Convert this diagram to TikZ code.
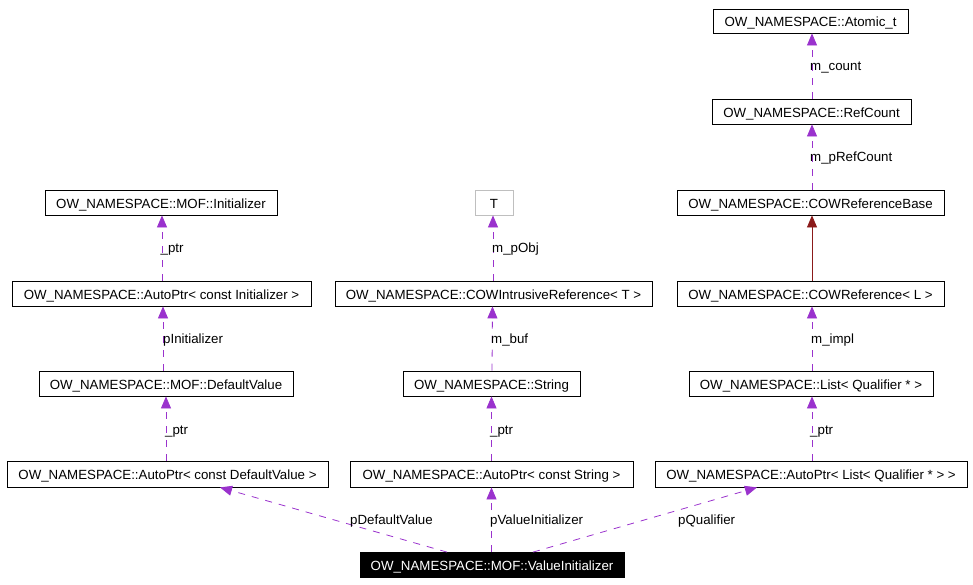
\documentclass[tikz,border=0pt]{standalone}
\usepackage{fontspec}
\setmainfont{Liberation Sans}
\usetikzlibrary{arrows.meta}
\definecolor{dep}{HTML}{9A32CD}
\definecolor{inh}{HTML}{8B1A1A}
\definecolor{tgray}{HTML}{BFBFBF}
\begin{document}
\begin{tikzpicture}[x=1pt,y=-1pt,
  box/.style={draw=black,line width=0.8pt,inner sep=0pt,minimum height=25pt,font=\fontsize{13.3}{15}\selectfont,text height=11pt,text depth=0pt,fill=white},
  gbox/.style={box,draw=tgray},
  sel/.style={box,fill=black,text=white},
  depline/.style={draw=dep,line width=0.8pt,dash pattern=on 7pt off 7pt,-{Triangle[length=12pt,width=10pt,fill=dep]}},
  inhline/.style={draw=inh,line width=0.8pt,-{Triangle[length=12pt,width=10pt,fill=inh]}},
  lbl/.style={anchor=west,inner sep=0pt,font=\fontsize{13.3}{15}\selectfont,text height=11pt,text depth=0pt}
]
\useasboundingbox (0,0) rectangle (973,584);
% right column
\node[box,minimum width=195pt,minimum height=24pt] (atomic) at (810.5,21) {OW\_NAMESPACE::Atomic\_t};
\node[box,minimum width=199pt] (refcount) at (811.5,111.5) {OW\_NAMESPACE::RefCount};
\node[box,minimum width=267pt] (cowbase) at (810.5,202.5) {OW\_NAMESPACE::COWReferenceBase};
\node[box,minimum width=267pt] (cowref) at (810.5,293.5) {OW\_NAMESPACE::COWReference< L >};
\node[box,minimum width=244pt] (list) at (811,383.5) {OW\_NAMESPACE::List< Qualifier * >};
\node[box,minimum width=312pt,minimum height=26pt] (aplist) at (811,474) {OW\_NAMESPACE::AutoPtr< List< Qualifier * > >};
% left column
\node[box,minimum width=232pt] (init) at (161,202.5) {OW\_NAMESPACE::MOF::Initializer};
\node[box,minimum width=299pt] (apinit) at (161.5,293.5) {OW\_NAMESPACE::AutoPtr< const Initializer >};
\node[box,minimum width=254pt] (defval) at (166,383.5) {OW\_NAMESPACE::MOF::DefaultValue};
\node[box,minimum width=321pt,minimum height=26pt] (apdef) at (167.5,474) {OW\_NAMESPACE::AutoPtr< const DefaultValue >};
% middle column
\node[gbox,minimum width=38pt] (T) at (494,202.5) {T};
\node[box,minimum width=317pt] (cowint) at (493.5,293.5) {OW\_NAMESPACE::COWIntrusiveReference< T >};
\node[box,minimum width=177pt] (string) at (491.5,383.5) {OW\_NAMESPACE::String};
\node[box,minimum width=283pt,minimum height=26pt] (apstr) at (491.5,474) {OW\_NAMESPACE::AutoPtr< const String >};
\node[sel,minimum width=264pt] (vi) at (492,565) {OW\_NAMESPACE::MOF::ValueInitializer};

% right column edges
\draw[depline] ([xshift=0.5pt]refcount.north) -- ([xshift=1.5pt]atomic.south);
\draw[depline] ([xshift=1.5pt]cowbase.north) -- ([xshift=0.5pt]refcount.south);
\draw[inhline] ([xshift=1.5pt]cowref.north) -- ([xshift=1.5pt]cowbase.south);
\draw[depline] ([xshift=1pt]list.north) -- ([xshift=1.5pt]cowref.south);
\draw[depline] ([xshift=1pt]aplist.north) -- ([xshift=1pt]list.south);
% left column edges
\draw[depline] ([xshift=0.5pt]apinit.north) -- ([xshift=1pt]init.south);
\draw[depline] ([xshift=-3pt]defval.north) -- ([xshift=1.5pt]apinit.south);
\draw[depline] ([xshift=-1.5pt]apdef.north) -- (defval.south);
% middle column edges
\draw[depline] ([xshift=-0.5pt]cowint.north) -- ([xshift=-1pt]T.south);
\draw[depline] ([xshift=0.5pt]string.north) -- ([xshift=-1pt]cowint.south);
\draw[depline] (apstr.north) -- (string.south);
% bottom edges
\draw[depline] ([xshift=-45pt]vi.north) -- ([xshift=52.5pt]apdef.south);
\draw[depline] ([xshift=-0.5pt]vi.north) -- (apstr.south);
\draw[depline] ([xshift=41pt]vi.north) -- ([xshift=-54pt]aplist.south);

% labels
\node[lbl] (l1) at (810,64.5) {m\_count};
\node[lbl] (l2) at (810,156) {m\_pRefCount};
\node[lbl] (l3) at (811,337.5) {m\_impl};
\node[lbl] (l4) at (810,428.5) {\_ptr};
\node[lbl] (l5) at (160.5,246.5) {\_ptr};
\node[lbl] (l6) at (163,337.5) {pInitializer};
\node[lbl] (l7) at (165,428.5) {\_ptr};
\node[lbl] (l8) at (492,246.5) {m\_pObj};
\node[lbl] (l9) at (491,337.5) {m\_buf};
\node[lbl] (l10) at (490,428.5) {\_ptr};
\node[lbl] (l11) at (350,518.5) {pDefaultValue};
\node[lbl] (l12) at (490,518.5) {pValueInitializer};
\node[lbl] (l13) at (678,518.5) {pQualifier};
\end{tikzpicture}
\end{document}
